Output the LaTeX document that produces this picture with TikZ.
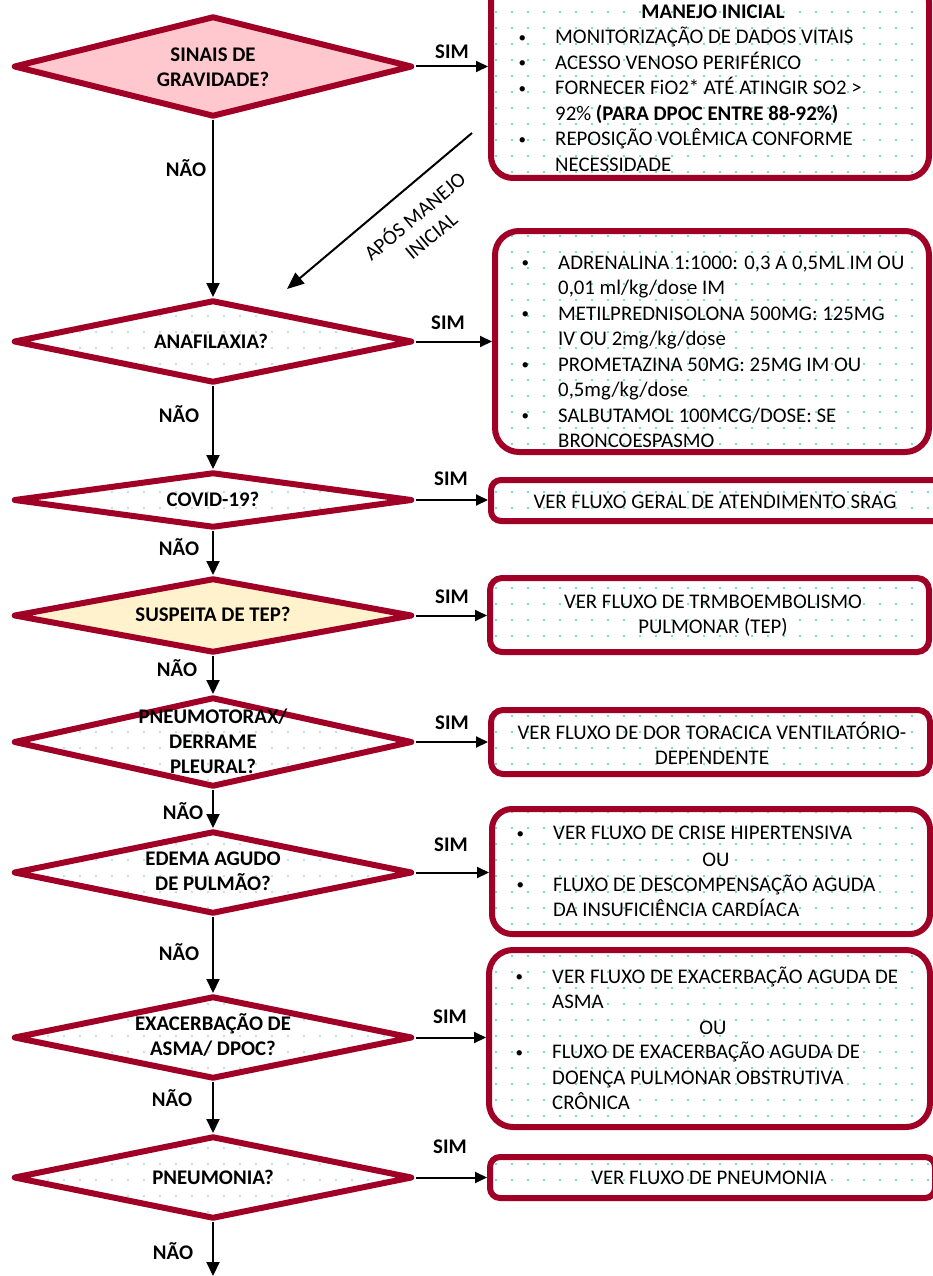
\documentclass[tikz,border=0pt]{standalone}
\usepackage{fontspec}
\setmainfont{Carlito}
\usetikzlibrary{shapes.geometric,arrows.meta,patterns.meta}
\definecolor{bordo}{RGB}{160,0,38}
\definecolor{pinkf}{RGB}{255,199,206}
\definecolor{yellowf}{RGB}{255,242,204}
\definecolor{dotbox}{RGB}{80,200,200}
\definecolor{dotdia}{RGB}{160,222,218}
\newcommand{\bull}{\makebox[38pt][l]{\hspace*{1.5pt}\raisebox{1.5pt}{\fontsize{15}{15}\selectfont •}}}
\newcommand{\myind}{\hspace*{38pt}}
\tikzset{
 dia/.style={shape=diamond, draw=bordo, line width=6pt, line join=round, inner sep=0pt, minimum width=399pt},
 diadots/.style={dia, pattern={Dots[radius=1.1pt,distance=16pt]}, pattern color=dotdia},
 boxbase/.style={draw=bordo, line width=6pt, inner sep=0pt, pattern={Dots[radius=1.2pt,distance=16pt]}, pattern color=dotbox},
 txt/.style={font=\fontsize{20.8}{25.5}\selectfont, inner sep=0pt, text=black},
 btxt/.style={font=\fontsize{20.8}{25}\selectfont\bfseries, inner sep=0pt, text=black},
 conn/.style={line width=2pt, -{Triangle[length=14pt,width=13pt]}},
 hconn/.style={line width=2pt, -{Triangle[length=12pt,width=11pt]}},
}
\begin{document}
\begin{tikzpicture}[x=1pt,y=-1pt]
\useasboundingbox (0,0) rectangle (933,1276);
\clip (0,0) rectangle (933,1276);

% diamonds
\node[dia, fill=pinkf, minimum height=101pt] (d1) at (213,66.5) {};
\node[diadots, minimum height=83pt] (d2) at (213,341.5) {};
\node[diadots, minimum height=56pt] (d3) at (213,500) {};
\node[dia, fill=yellowf, minimum height=75pt] (d4) at (213,615.5) {};
\node[diadots, minimum height=90pt] (d5) at (213,742) {};
\node[diadots, minimum height=83pt] (d6) at (213,872.5) {};
\node[diadots, minimum height=83pt] (d7) at (213,1037.5) {};
\node[diadots, minimum height=83pt] (d8) at (213,1177.5) {};

% diamond texts (base = last line baseline)
\node[btxt, anchor=base, align=center] (q1) at (213,86.5) {SINAIS DE\\GRAVIDADE?};
\node[btxt, anchor=base] (q2) at (211,348.5) {ANAFILAXIA?};
\node[btxt, anchor=base] (q3) at (213,506.5) {COVID-19?};
\node[btxt, anchor=base] (q4) at (213,621.5) {SUSPEITA DE TEP?};
\node[btxt, anchor=base, align=center] (q5) at (213,773.5) {PNEUMOTORAX/\\DERRAME\\PLEURAL?};
\node[btxt, anchor=base, align=center] (q6) at (213,890.5) {EDEMA AGUDO\\DE PULMÃO?};
\node[btxt, anchor=base, align=center] (q7) at (213,1055.5) {EXACERBAÇÃO DE\\ASMA/ DPOC?};
\node[btxt, anchor=base] (q8) at (213,1184.5) {PNEUMONIA?};

% boxes
\node[boxbase, rounded corners=22pt, minimum width=438pt, minimum height=198pt] (b1) at (710,79) {};
\node[boxbase, rounded corners=24pt, minimum width=434pt, minimum height=221pt] (b2) at (712,341.5) {};
\node[boxbase, rounded corners=10pt, minimum width=469pt, minimum height=41pt] (b3) at (725.5,500.5) {};
\node[boxbase, rounded corners=12pt, minimum width=439pt, minimum height=74pt] (b4) at (709.5,615) {};
\node[boxbase, rounded corners=12pt, minimum width=439pt, minimum height=64pt] (b5) at (710.5,742) {};
\node[boxbase, rounded corners=20pt, minimum width=438pt, minimum height=125pt] (b6) at (711,871.5) {};
\node[boxbase, rounded corners=24pt, minimum width=441pt, minimum height=177pt] (b7) at (709.5,1038.5) {};
\node[boxbase, rounded corners=10pt, minimum width=445pt, minimum height=41pt] (b8) at (712.5,1177.5) {};

% box texts
\node[btxt, anchor=base] (t1h) at (713,18.5) {MANEJO INICIAL};
\node[txt, anchor=base west, align=left] (t1) at (517,171.5) {\bull MONITORIZAÇÃO DE DADOS VITAIS\\
\bull ACESSO VENOSO PERIFÉRICO\\
\bull FORNECER FiO2* ATÉ ATINGIR SO2 >\\
\myind 92\% \textbf{(PARA DPOC ENTRE 88-92\%)}\\
\bull REPOSIÇÃO VOLÊMICA CONFORME\\
\myind NECESSIDADE};
\node[txt, anchor=base west, align=left] (t2) at (520,447.5) {\bull ADRENALINA 1:1000: 0,3 A 0,5ML IM OU\\
\myind 0,01 ml/kg/dose IM\\
\bull METILPREDNISOLONA 500MG:  125MG\\
\myind IV OU 2mg/kg/dose\\
\bull PROMETAZINA 50MG: 25MG IM OU\\
\myind 0,5mg/kg/dose\\
\bull SALBUTAMOL 100MCG/DOSE: SE\\
\myind BRONCOESPASMO};
\node[txt, anchor=base] (t3) at (715,508.5) {VER FLUXO GERAL DE ATENDIMENTO SRAG};
\node[txt, anchor=base, align=center] (t4) at (713,633.5) {VER FLUXO DE TRMBOEMBOLISMO\\PULMONAR (TEP)};
\node[txt, anchor=base, align=center] (t5) at (712,764.5) {VER FLUXO DE DOR TORACICA VENTILATÓRIO-\\DEPENDENTE};
\node[txt, anchor=base west, align=left] (t6a) at (515,839.5) {\bull VER FLUXO DE CRISE HIPERTENSIVA};
\node[txt, anchor=base] (t6o) at (716,866.5) {OU};
\node[txt, anchor=base west, align=left] (t6b) at (515,916.5) {\bull FLUXO DE DESCOMPENSAÇÃO AGUDA\\
\myind DA INSUFICIÊNCIA CARDÍACA};
\node[txt, anchor=base west, align=left] (t7a) at (514,1008.5) {\bull VER FLUXO DE EXACERBAÇÃO AGUDA DE\\
\myind ASMA};
\node[txt, anchor=base] (t7o) at (713,1034.5) {OU};
\node[txt, anchor=base west, align=left] (t7b) at (514,1109.5) {\bull FLUXO DE EXACERBAÇÃO AGUDA DE\\
\myind DOENÇA PULMONAR OBSTRUTIVA\\
\myind CRÔNICA};
\node[txt, anchor=base] (t8) at (709,1184.5) {VER FLUXO DE PNEUMONIA};

% vertical connectors
\draw[conn] (d1.south) -- (d2.north);
\draw[conn] (d2.south) -- (d3.north);
\draw[conn] (d3.south) -- (d4.north);
\draw[conn] (d4.south) -- (d5.north);
\draw[conn] (d5.south) -- (d6.north);
\draw[conn] (d6.south) -- (d7.north);
\draw[conn] (d7.south) -- (d8.north);
\coordinate (endp) at (213,1276);
\draw[conn] (d8.south) -- (endp);

% horizontal connectors
\draw[hconn] (d1.east) -- (d1.east -| b1.west);
\draw[hconn] (d2.east) -- (d2.east -| b2.west);
\draw[hconn] (d3.east) -- (d3.east -| b3.west);
\draw[hconn] (d4.east) -- (d4.east -| b4.west);
\draw[hconn] (d5.east) -- (d5.east -| b5.west);
\draw[hconn] (d6.east) -- (d6.east -| b6.west);
\draw[hconn] (d7.east) -- (d7.east -| b7.west);
\draw[hconn] (d8.east) -- (d8.east -| b8.west);

% diagonal
\coordinate (ds) at (472,133);
\coordinate (de) at (287,289);
\draw[line width=2pt, -{Triangle[length=17pt,width=14pt]}] (ds) -- (de);
\node[txt, rotate=40, align=center] (apos) at (422,225) {APÓS MANEJO\\INICIAL};

% labels
\node[btxt, anchor=base] (s1) at (452,58.5) {SIM};
\node[btxt, anchor=base] (s2) at (448,329.5) {SIM};
\node[btxt, anchor=base] (s3) at (451,485.5) {SIM};
\node[btxt, anchor=base] (s4) at (452,603.5) {SIM};
\node[btxt, anchor=base] (s5) at (452,729.5) {SIM};
\node[btxt, anchor=base] (s6) at (451,851.5) {SIM};
\node[btxt, anchor=base] (s7) at (450,1023.5) {SIM};
\node[btxt, anchor=base] (s8) at (450,1153.5) {SIM};

\node[btxt, anchor=base] (n1) at (186,176.5) {NÃO};
\node[btxt, anchor=base] (n2) at (179,422.5) {NÃO};
\node[btxt, anchor=base] (n3) at (179,555.5) {NÃO};
\node[btxt, anchor=base] (n4) at (177,676.5) {NÃO};
\node[btxt, anchor=base] (n5) at (183,819.5) {NÃO};
\node[btxt, anchor=base] (n6) at (179,960.5) {NÃO};
\node[btxt, anchor=base] (n7) at (172,1106.5) {NÃO};
\node[btxt, anchor=base] (n8) at (173,1259.5) {NÃO};
\end{tikzpicture}
\end{document}
